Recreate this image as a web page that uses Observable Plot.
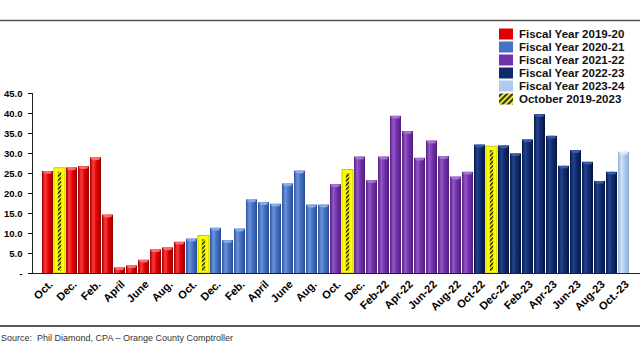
<!DOCTYPE html>
<html>
<head>
<meta charset="utf-8">
<script src="https://cdn.jsdelivr.net/npm/d3@7"></script>
<script src="https://cdn.jsdelivr.net/npm/@observablehq/plot@0.6"></script>
<style>
  html, body { margin: 0; padding: 0; background: #fff; }
  #chart { width: 640px; height: 360px; overflow: hidden; }
  svg { font-family: "Liberation Sans", Arial, sans-serif; }
</style>
</head>
<body>
<div id="chart"></div>
<script>
// ---- data ----
// Each fiscal year: October value first, then the remaining months (Dec ... Sep slots)
const fy2019_20 = [25.5, 26.4, 26.7, 28.9, 14.6, 1.4, 1.9, 3.3, 5.9, 6.4, 7.8];
const fy2020_21 = [8.6, 11.3, 8.2, 11.1, 18.4, 17.7, 17.3, 22.4, 25.6, 17.1, 17.1];
const fy2021_22 = [22.2, 29.1, 23.2, 29.1, 39.3, 35.5, 28.8, 33.1, 29.2, 24.1, 25.3];
const fy2022_23 = [32.1, 31.9, 29.9, 33.4, 39.7, 34.3, 26.8, 30.7, 27.8, 23.0, 25.3];
const fy2023_24 = [30.3];
const october = [26.3, 9.4, 25.9, 31.7]; // "October 2019-2023" hatched bars
const seriesNames = ["Fiscal Year 2019-20", "Fiscal Year 2020-21", "Fiscal Year 2021-22",
                     "Fiscal Year 2022-23", "Fiscal Year 2023-24", "October 2019-2023"];
const seriesColors = ["#e00000", "#4472c4", "#7432aa", "#0f2b6f", "#aecbee", "#ffff00"];
const tickLabels = ["Oct.", "Dec.", "Feb.", "April", "June", "Aug.",
                    "Oct.", "Dec.", "Feb.", "April", "June", "Aug.",
                    "Oct.", "Dec.", "Feb-22", "Apr-22", "Jun-22", "Aug-22",
                    "Oct-22", "Dec-22", "Feb-23", "Apr-23", "Jun-23", "Aug-23", "Oct.-23"];
const yTicks = [0, 5, 10, 15, 20, 25, 30, 35, 40, 45];
const sourceText = "Source:  Phil Diamond, CPA \u2013 Orange County Comptroller";

// ---- build table ----
const years = [fy2019_20, fy2020_21, fy2021_22, fy2022_23, fy2023_24];
const data = [];
years.forEach((vals, yi) => {
  vals.forEach((v, i) => {
    data.push({slot: data.length, value: v, s: yi});
    if (i === 0 && yi < october.length) data.push({slot: data.length, value: october[yi], s: 5});
  });
});
const slots = data.map(d => d.slot);
const labelOf = new Map(tickLabels.map((t, i) => [i * 2, t]));

const grads = [
  ["#9a0000", "#ff3a3a", "#e00000", "#950000"],
  ["#2c529c", "#6a93dc", "#4472c4", "#2a4c90"],
  ["#55207f", "#9456c8", "#7432aa", "#4f1d78"],
  ["#07184a", "#23438e", "#0f2b6f", "#061540"],
  ["#8eb0d8", "#d0e2f7", "#aecbee", "#8aaad2"]
];
const caps = ["#ff6b6b", "#87a9e6", "#a674d4", "#3a5aa6", "#dceaf9"];

const marks = [];
for (let s = 0; s < 5; s++) {
  const sub = data.filter(d => d.s === s);
  marks.push(Plot.barY(sub, {x: "slot", y: "value", fill: `url(#grad${s})`}));
  marks.push(Plot.barY(sub, {x: "slot", y1: d => d.value - 0.7, y2: "value", fill: caps[s], rx: 3, insetLeft: 1, insetRight: 1}));
}
const oct = data.filter(d => d.s === 5);
marks.push(Plot.barY(oct, {x: "slot", y: "value", fill: "#ffff00", stroke: "#b8b800", strokeWidth: 0.8}));
marks.push(Plot.barY(oct, {x: "slot", y: "value", fill: "url(#hatch)", insetLeft: 3.8, insetRight: 3.8, insetTop: 4, insetBottom: 2}));
marks.push(Plot.ruleY([0], {stroke: "#222", strokeWidth: 1}));
marks.push(Plot.frame({anchor: "left", stroke: "#222"}));
marks.push(Plot.axisY({ticks: yTicks, tickSize: 4, tickPadding: 6, label: null,
  tickFormat: d => d === 0 ? "-" : d.toFixed(1), fontSize: 9.5, fontWeight: "bold", fill: "#000"}));
marks.push(Plot.axisX({ticks: slots.filter(i => i % 2 === 0), tickFormat: i => labelOf.get(i), label: null,
  tickSize: 0, tickPadding: 9, tickRotate: -45, fontSize: 11, fontWeight: "bold", fill: "#000", dx: 3}));

const svg = Plot.plot({
  width: 640, height: 360,
  marginTop: 93, marginBottom: 87, marginLeft: 32, marginRight: 0,
  x: {type: "band", domain: slots, paddingInner: 0.06, paddingOuter: 0.03, axis: null, label: null},
  y: {domain: [0, 45], axis: null, label: null},
  marks
});

const root = d3.select(svg);
const defs = root.insert("defs", ":first-child");
grads.forEach((stops, s) => {
  const g = defs.append("linearGradient").attr("id", `grad${s}`).attr("x1", 0).attr("x2", 1).attr("y1", 0).attr("y2", 0);
  [0, 0.3, 0.6, 1].forEach((o, k) => g.append("stop").attr("offset", o).attr("stop-color", stops[k]));
});
const pat = defs.append("pattern").attr("id", "hatch").attr("patternUnits", "userSpaceOnUse")
  .attr("width", 3).attr("height", 3).attr("patternTransform", "rotate(45)");
pat.append("rect").attr("width", 3).attr("height", 3).attr("fill", "#ffff00");
pat.append("rect").attr("width", 1.4).attr("height", 3).attr("fill", "#111");
const pat2 = defs.append("pattern").attr("id", "hatchLegend").attr("patternUnits", "userSpaceOnUse")
  .attr("width", 4).attr("height", 4).attr("patternTransform", "rotate(45)");
pat2.append("rect").attr("width", 4).attr("height", 4).attr("fill", "#e8e830");
pat2.append("rect").attr("width", 1.8).attr("height", 4).attr("fill", "#222");

// frame lines
root.append("line").attr("x1", 0).attr("x2", 640).attr("y1", 20.5).attr("y2", 20.5)
  .attr("stroke", "#555").attr("stroke-width", 1.5);
root.append("line").attr("x1", 0).attr("x2", 640).attr("y1", 326).attr("y2", 326)
  .attr("stroke", "#222").attr("stroke-width", 1.5);
root.append("text").attr("x", 1).attr("y", 341).attr("font-size", 9).attr("fill", "#333")
  .attr("text-anchor", "start").text(sourceText);

// legend
const lg = root.append("g").attr("text-anchor", "start");
seriesNames.forEach((name, i) => {
  const y = 34 + i * 13;
  lg.append("rect").attr("x", 499).attr("y", y - 5.5).attr("width", 14).attr("height", 11)
    .attr("fill", i === 5 ? "url(#hatchLegend)" : seriesColors[i]);
  lg.append("text").attr("x", 519).attr("y", y + 4.2).attr("font-size", 11.5).attr("font-weight", "bold")
    .attr("fill", "#111").attr("text-anchor", "start").text(name);
});

document.getElementById("chart").appendChild(svg);
</script>
</body>
</html>
